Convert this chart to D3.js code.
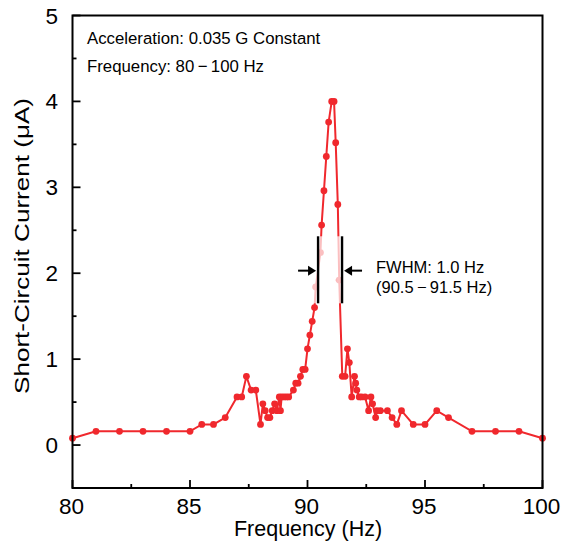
<!DOCTYPE html>
<html lang="en">
<head>
<meta charset="UTF-8">
<title>Short-circuit current vs frequency</title>
<script src="https://cdn.jsdelivr.net/npm/d3@7"></script>
<style>
  body { margin: 0; background: #fff; }
  text { font-family: "Liberation Sans", Arial, sans-serif; }
</style>
</head>
<body>
<script>
// measured points, frequency in Hz and current in uA
const freq = [80, 81, 82, 83, 84, 85, 85.5, 86, 86.5, 87, 87.2, 87.4, 87.6, 87.8,
  88, 88.1, 88.2, 88.3, 88.4, 88.5, 88.6, 88.7, 88.8, 88.85, 88.9, 89, 89.1, 89.2,
  89.4, 89.5, 89.6, 89.7, 89.8, 89.9, 90, 90.1, 90.2, 90.3, 90.35, 90.55, 90.6,
  90.7, 90.8, 90.9, 91.03, 91.13, 91.2, 91.29, 91.35, 91.48, 91.6, 91.7, 91.78,
  91.88, 92, 92.05, 92.1, 92.2, 92.3, 92.45, 92.6, 92.7, 92.77, 92.9, 92.95, 93.1,
  93.4, 93.6, 93.8, 94, 94.5, 95, 95.5, 96, 97, 98, 99, 100];
const current = [0.08, 0.16, 0.16, 0.16, 0.16, 0.16, 0.24, 0.24, 0.32, 0.56, 0.56, 0.80, 0.64, 0.64,
  0.24, 0.48, 0.40, 0.32, 0.32, 0.40, 0.48, 0.40, 0.56, 0.40, 0.56, 0.56, 0.56, 0.56,
  0.64, 0.72, 0.72, 0.80, 0.88, 0.88, 1.12, 1.28, 1.44, 1.60, 1.84, 2.24, 2.56,
  2.96, 3.36, 3.76, 4.00, 4.00, 3.52, 2.80, 1.92, 0.80, 0.80, 1.12, 0.96,
  0.56, 0.80, 0.72, 0.64, 0.56, 0.56, 0.56, 0.40, 0.56, 0.48, 0.32, 0.40, 0.40,
  0.40, 0.32, 0.24, 0.40, 0.24, 0.24, 0.40, 0.32, 0.16, 0.16, 0.16, 0.08];
const xTicks = [80, 85, 90, 95, 100];
const yTicks = [0, 1, 2, 3, 4, 5];
const fwhmEdges = [90.45, 91.47];   // half-maximum marker positions
const fwhmSpan = [1.65, 2.43];      // vertical extent of the markers
const notes = ["Acceleration: 0.035 G Constant", "Frequency: 80\u2009\u2212\u2009100 Hz"];
const fwhmText = ["FWHM: 1.0 Hz", "(90.5\u2009\u2212\u200991.5 Hz)"];

const width = 563, height = 545;
const pLeft = 72.5, pRight = 542.5, pTop = 15.5, pBottom = 488;

const svg = d3.select("body").append("svg").attr("width", width).attr("height", height);

const x = d3.scaleLinear().domain([80, 100]).range([pLeft, pRight]);
const y = d3.scaleLinear().domain([-0.5, 5]).range([pBottom, pTop]);

const data = freq.map((f, i) => ({f, v: current[i]}));
const red = "#f0282d";

// curve
svg.append("path")
  .datum(data)
  .attr("fill", "none")
  .attr("stroke", red)
  .attr("stroke-width", 2)
  .attr("d", d3.line().x(d => x(d.f)).y(d => y(d.v)));

svg.selectAll("circle.pt")
  .data(data)
  .join("circle")
  .attr("class", "pt")
  .attr("cx", d => x(d.f))
  .attr("cy", d => y(d.v))
  .attr("r", 3.4)
  .attr("fill", red);

// FWHM markers: white halo, bar, arrow
const g = svg.append("g");
g.selectAll("rect.halo")
  .data(fwhmEdges)
  .join("rect")
  .attr("class", "halo")
  .attr("x", d => x(d) - 6)
  .attr("y", y(fwhmSpan[1]))
  .attr("width", 12)
  .attr("height", y(fwhmSpan[0]) - y(fwhmSpan[1]))
  .attr("fill", "#fff")
  .attr("opacity", 0.7);
g.selectAll("line.bar")
  .data(fwhmEdges)
  .join("line")
  .attr("class", "bar")
  .attr("x1", d => x(d)).attr("x2", d => x(d))
  .attr("y1", y(fwhmSpan[1])).attr("y2", y(fwhmSpan[0]))
  .attr("stroke", "#000").attr("stroke-width", 2.4);

const ay = y(2.03);
const arrow = (tipX, dir) => {
  // dir = +1 points right, -1 points left
  const tail = tipX - dir * 18;
  g.append("line").attr("x1", tail).attr("x2", tipX - dir * 4)
    .attr("y1", ay).attr("y2", ay).attr("stroke", "#000").attr("stroke-width", 2);
  g.append("path")
    .attr("d", `M${tipX},${ay} L${tipX - dir * 8},${ay - 5} L${tipX - dir * 8},${ay + 5} Z`)
    .attr("fill", "#000");
};
arrow(x(fwhmEdges[0]) - 2, 1);
arrow(x(fwhmEdges[1]) + 2, -1);

svg.selectAll("text.fwhm")
  .data(fwhmText)
  .join("text")
  .attr("class", "fwhm")
  .attr("x", 376)
  .attr("y", (d, i) => 273 + i * 20)
  .attr("font-size", 16.5)
  .text(d => d);

svg.selectAll("text.note")
  .data(notes)
  .join("text")
  .attr("class", "note")
  .attr("x", 87)
  .attr("y", (d, i) => 44 + i * 28)
  .attr("font-size", 16.8)
  .text(d => d);

// frame
svg.append("rect")
  .attr("x", pLeft).attr("y", pTop)
  .attr("width", pRight - pLeft).attr("height", pBottom - pTop)
  .attr("fill", "none").attr("stroke", "#000").attr("stroke-width", 2);

// x axis ticks (inward)
const xMinor = d3.range(82.5, 100, 5);
svg.append("g").selectAll("line")
  .data(xTicks.map(t => ({t, len: 8})).concat(xMinor.map(t => ({t, len: 4}))))
  .join("line")
  .attr("x1", d => x(d.t)).attr("x2", d => x(d.t))
  .attr("y1", pBottom).attr("y2", d => pBottom - d.len)
  .attr("stroke", "#000").attr("stroke-width", 1.8);

svg.append("g").selectAll("text")
  .data(xTicks)
  .join("text")
  .attr("x", d => x(d) - 1)
  .attr("y", 514)
  .attr("text-anchor", "middle")
  .attr("font-size", 22.5)
  .text(d => d);

// y axis ticks (inward)
const yMinor = d3.range(0.5, 5, 1);
svg.append("g").selectAll("line")
  .data(yTicks.map(t => ({t, len: 8})).concat(yMinor.map(t => ({t, len: 4}))))
  .join("line")
  .attr("x1", pLeft).attr("x2", d => pLeft + d.len)
  .attr("y1", d => y(d.t)).attr("y2", d => y(d.t))
  .attr("stroke", "#000").attr("stroke-width", 1.8);

svg.append("g").selectAll("text")
  .data(yTicks)
  .join("text")
  .attr("x", 58)
  .attr("y", d => y(d) + 8)
  .attr("text-anchor", "end")
  .attr("font-size", 22.5)
  .text(d => d);

// axis titles
svg.append("text")
  .attr("x", 308)
  .attr("y", 536)
  .attr("text-anchor", "middle")
  .attr("font-size", 21.5)
  .text("Frequency (Hz)");

svg.append("text")
  .attr("transform", `translate(29,246) rotate(-90)`)
  .attr("text-anchor", "middle")
  .attr("font-size", 21)
  .attr("textLength", 296)
  .attr("lengthAdjust", "spacingAndGlyphs")
  .text("Short-Circuit Current (\u03bcA)");
</script>
</body>
</html>
